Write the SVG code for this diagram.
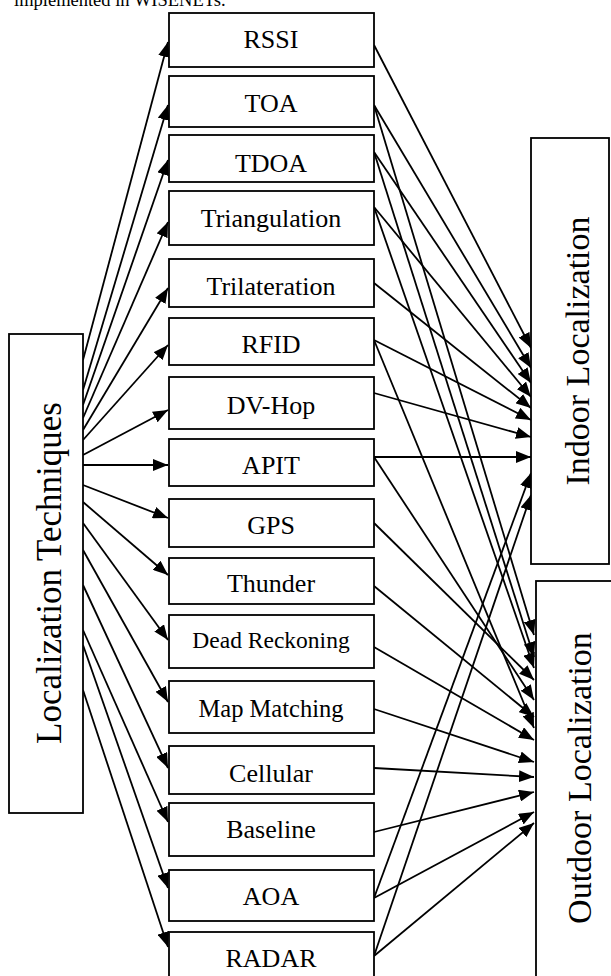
<svg xmlns="http://www.w3.org/2000/svg" width="611" height="976" viewBox="0 0 611 976">
<style>
text{font-family:"Liberation Serif","Times New Roman",serif;fill:#000}
.box{fill:#fff;stroke:#000;stroke-width:1.8}
.lbl{font-size:26px;text-anchor:middle}
.big{font-size:35px;text-anchor:middle}
.side{font-size:34px;text-anchor:middle}
#connectors line{stroke:#000;stroke-width:1.8;marker-end:url(#ah)}
</style>
<defs>
<marker id="ah" viewBox="0 0 15 12" refX="15" refY="6" markerWidth="15" markerHeight="12" markerUnits="userSpaceOnUse" orient="auto"><path d="M0,0 L15,6 L0,12 z" fill="#000"/></marker>
</defs>
<rect width="611" height="976" fill="#fff"/>
<text x="14" y="6" style="font-size:18.5px">implemented in WISENETs.</text>

<g id="connectors">
<!-- left fan -->
<line x1="83" y1="360" x2="168" y2="42"/>
<line x1="83" y1="390" x2="168" y2="105"/>
<line x1="83" y1="405" x2="168" y2="160"/>
<line x1="83" y1="418" x2="168" y2="222"/>
<line x1="83" y1="430" x2="168" y2="288"/>
<line x1="83" y1="440" x2="168" y2="345"/>
<line x1="83" y1="455" x2="168" y2="410"/>
<line x1="83" y1="465" x2="168" y2="465"/>
<line x1="83" y1="485" x2="168" y2="518"/>
<line x1="83" y1="502" x2="168" y2="575"/>
<line x1="83" y1="523" x2="168" y2="640"/>
<line x1="83" y1="550" x2="168" y2="702"/>
<line x1="83" y1="585" x2="168" y2="768"/>
<line x1="83" y1="630" x2="168" y2="822"/>
<line x1="83" y1="645" x2="168" y2="888"/>
<line x1="83" y1="690" x2="168" y2="947"/>
<!-- to indoor -->
<line x1="374" y1="45" x2="531" y2="348"/>
<line x1="374" y1="105" x2="531" y2="368"/>
<line x1="374" y1="152" x2="531" y2="383"/>
<line x1="374" y1="207" x2="531" y2="397"/>
<line x1="374" y1="283" x2="531" y2="408"/>
<line x1="374" y1="340" x2="531" y2="420"/>
<line x1="374" y1="393" x2="531" y2="437"/>
<line x1="374" y1="457" x2="531" y2="457"/>
<line x1="374" y1="898" x2="531" y2="473"/>
<line x1="374" y1="956" x2="531" y2="495"/>
<!-- to outdoor -->
<line x1="374" y1="105" x2="534" y2="635"/>
<line x1="374" y1="152" x2="534" y2="657"/>
<line x1="374" y1="207" x2="534" y2="668"/>
<line x1="374" y1="523" x2="534" y2="680"/>
<line x1="374" y1="457" x2="534" y2="700"/>
<line x1="374" y1="586" x2="534" y2="717"/>
<line x1="374" y1="340" x2="534" y2="728"/>
<line x1="374" y1="647" x2="534" y2="740"/>
<line x1="374" y1="709" x2="534" y2="762"/>
<line x1="374" y1="768" x2="534" y2="777"/>
<line x1="374" y1="832" x2="534" y2="792"/>
<line x1="374" y1="898" x2="534" y2="812"/>
<line x1="374" y1="956" x2="534" y2="823"/>
</g>

<g id="n-techniques"><rect class="box" x="9" y="334" width="74" height="479"/><text class="big" transform="translate(61,573) rotate(-90)">Localization Techniques</text></g>
<g id="n-indoor"><rect class="box" x="531" y="138" width="78" height="426"/><text class="side" transform="translate(589,351) rotate(-90)">Indoor Localization</text></g>
<g id="n-outdoor"><rect class="box" x="536" y="581" width="80" height="420"/><text class="side" transform="translate(591,778) rotate(-90)">Outdoor Localization</text></g>

<g id="n-rssi"><rect class="box" x="169" y="13" width="205" height="54"/><text class="lbl" x="271" y="48">RSSI</text></g>
<g id="n-toa"><rect class="box" x="169" y="76" width="205" height="51"/><text class="lbl" x="271" y="112">TOA</text></g>
<g id="n-tdoa"><rect class="box" x="169" y="135" width="205" height="47"/><text class="lbl" x="271" y="172">TDOA</text></g>
<g id="n-triangulation"><rect class="box" x="169" y="191" width="205" height="54"/><text class="lbl" x="271" y="227">Triangulation</text></g>
<g id="n-trilateration"><rect class="box" x="169" y="259" width="205" height="48"/><text class="lbl" x="271" y="295">Trilateration</text></g>
<g id="n-rfid"><rect class="box" x="169" y="318" width="205" height="47"/><text class="lbl" x="271" y="353">RFID</text></g>
<g id="n-dvhop"><rect class="box" x="169" y="377" width="205" height="52"/><text class="lbl" x="271" y="414">DV-Hop</text></g>
<g id="n-apit"><rect class="box" x="169" y="439" width="205" height="47"/><text class="lbl" x="271" y="474">APIT</text></g>
<g id="n-gps"><rect class="box" x="169" y="499" width="205" height="48"/><text class="lbl" x="271" y="534">GPS</text></g>
<g id="n-thunder"><rect class="box" x="169" y="558" width="205" height="46"/><text class="lbl" x="271" y="592">Thunder</text></g>
<g id="n-deadreckoning"><rect class="box" x="169" y="615" width="205" height="53"/><text class="lbl" x="271" y="648" style="font-size:23.5px">Dead Reckoning</text></g>
<g id="n-mapmatching"><rect class="box" x="169" y="681" width="205" height="52"/><text class="lbl" x="271" y="717" style="font-size:24.5px">Map Matching</text></g>
<g id="n-cellular"><rect class="box" x="169" y="746" width="205" height="48"/><text class="lbl" x="271" y="782">Cellular</text></g>
<g id="n-baseline"><rect class="box" x="169" y="803" width="205" height="53"/><text class="lbl" x="271" y="838">Baseline</text></g>
<g id="n-aoa"><rect class="box" x="169" y="870" width="205" height="51"/><text class="lbl" x="271" y="905">AOA</text></g>
<g id="n-radar"><rect class="box" x="169" y="932" width="205" height="60"/><text class="lbl" x="271" y="967">RADAR</text></g>
</svg>
